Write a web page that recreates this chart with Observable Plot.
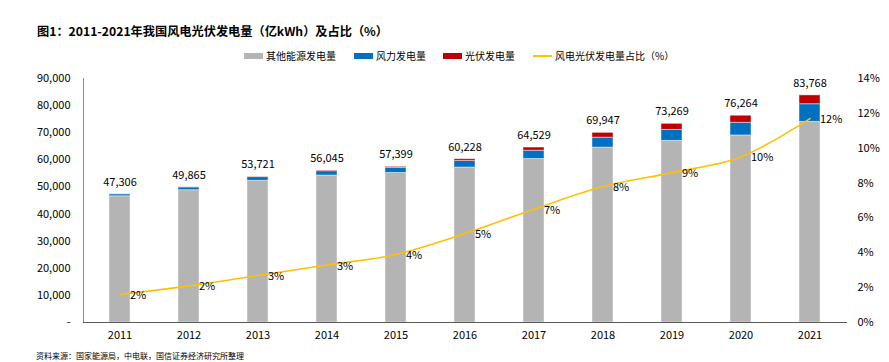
<!DOCTYPE html>
<html>
<head>
<meta charset="utf-8">
<script src="https://cdn.jsdelivr.net/npm/d3@7"></script>
<script src="https://cdn.jsdelivr.net/npm/@observablehq/plot@0.6"></script>
<style>
  body { margin: 0; background: #fff; }
  #wrap { position: relative; width: 889px; height: 362px; font-family: "Noto Sans CJK SC", "Noto Sans", sans-serif; color: #000; overflow: hidden; }
  #title { position: absolute; left: 37px; top: 22px; font-size: 12.2px; font-weight: bold; white-space: nowrap; }
  #source { position: absolute; left: 36px; top: 350px; font-size: 8px; white-space: nowrap; color: #000; }
  .lg { position: absolute; top: 49px; height: 14px; font-size: 10px; line-height: 14px; white-space: nowrap; }
  .sw { position: absolute; left: 0; }
  .lt { position: absolute; left: 22px; top: 0; }
  #chart { position: absolute; left: 0; top: 0; }
</style>
</head>
<body>
<div id="wrap">
  <div id="chart"></div>
  <div id="title"></div>
  <div id="legend"></div>
  <div id="source"></div>
</div>
<script>
const titleText = "图1：2011-2021年我国风电光伏发电量（亿kWh）及占比（%）";
const sourceText = "资料来源：国家能源局，中电联，国信证券经济研究所整理";

const years = ["2011","2012","2013","2014","2015","2016","2017","2018","2019","2020","2021"];
const totals = [47306, 49865, 53721, 56045, 57399, 60228, 64529, 69947, 73269, 76264, 83768];
const wind = [741, 1030, 1383, 1598, 1856, 2409, 3046, 3658, 4057, 4665, 6526];
const solar = [6, 36, 84, 235, 395, 665, 1166, 1775, 2240, 2611, 3259];
const share = [1.6, 2.1, 2.7, 3.3, 3.9, 5.1, 6.5, 7.8, 8.6, 9.5, 11.7];

const seriesNames = ["其他能源发电量", "风力发电量", "光伏发电量"];
const lineName = "风电光伏发电量占比（%）";
const seriesColors = ["#b4b4b4", "#0070c0", "#c00000"];
const lineColor = "#ffc000";

const leftTicks = [0, 10000, 20000, 30000, 40000, 50000, 60000, 70000, 80000, 90000];
const rightTicks = [0, 2, 4, 6, 8, 10, 12, 14];
const yMax = 90000;
const pMax = 14;

// build tables
const stackData = [];
years.forEach((yr, i) => {
  const other = totals[i] - wind[i] - solar[i];
  stackData.push({year: yr, series: seriesNames[0], value: other});
  stackData.push({year: yr, series: seriesNames[1], value: wind[i]});
  stackData.push({year: yr, series: seriesNames[2], value: solar[i]});
});
const totalData = years.map((yr, i) => ({year: yr, total: totals[i]}));
const shareData = years.map((yr, i) => ({year: yr, share: share[i], yv: share[i] / pMax * yMax}));

const fmt = d3.format(",");
const font = '"Noto Sans CJK SC", "Noto Sans", sans-serif';

const chart = Plot.plot({
  width: 889,
  height: 362,
  marginLeft: 83,
  marginRight: 42,
  marginTop: 78,
  marginBottom: 40,
  style: {fontFamily: font, fontSize: "11px", color: "#000", background: "transparent", overflow: "visible"},
  x: {domain: years, paddingInner: 0.69, paddingOuter: 0.345},
  y: {domain: [0, yMax]},
  color: {domain: seriesNames, range: seriesColors},
  marks: [
    Plot.barY(stackData, {x: "year", y: "value", fill: "series", order: seriesNames, stroke: "white", strokeOpacity: 0.45, strokeWidth: 1}),
    Plot.frame({anchor: "left", stroke: "#8c8c8c"}),
    Plot.ruleY([0], {stroke: "#595959", strokeWidth: 1.2}),
    Plot.axisX({tickSize: 0, tickPadding: 9, label: null, fontSize: 11}),
    Plot.axisY(leftTicks, {anchor: "left", tickSize: 0, tickPadding: 13, label: null, fontSize: 11,
      tickFormat: d => d === 0 ? "-" : fmt(d)}),
    Plot.axisY(rightTicks.map(p => p / pMax * yMax), {anchor: "right", tickSize: 0, tickPadding: 10, label: null, fontSize: 11,
      tickFormat: d => Math.round(d / yMax * pMax) + "%"}),
    Plot.line(shareData, {x: "year", y: "yv", stroke: lineColor, strokeWidth: 1.6, curve: "catmull-rom"}),
    Plot.text(totalData, {x: "year", y: "total", text: d => fmt(d.total), dy: -12, fontSize: 11, fill: "#000"}),
    Plot.text(shareData, {x: "year", y: "yv", text: d => Math.round(d.share) + "%", dx: 10, dy: 1, textAnchor: "start", fontSize: 11, fill: "#000"})
  ]
});
document.getElementById("chart").appendChild(chart);

document.getElementById("title").textContent = titleText;
document.getElementById("source").textContent = sourceText;

// legend
const legend = document.getElementById("legend");
const legendItems = [
  {name: seriesNames[0], color: seriesColors[0], type: "bar", left: 244},
  {name: seriesNames[1], color: seriesColors[1], type: "bar", left: 354},
  {name: seriesNames[2], color: seriesColors[2], type: "bar", left: 443},
  {name: lineName, color: lineColor, type: "line", left: 533}
];
legendItems.forEach(it => {
  const d = document.createElement("div");
  d.className = "lg";
  d.style.left = it.left + "px";
  const sw = document.createElement("div");
  sw.className = "sw";
  sw.style.width = "19px";
  sw.style.background = it.color;
  if (it.type === "bar") { sw.style.height = "6px"; sw.style.top = "4px"; }
  else { sw.style.height = "2px"; sw.style.top = "6px"; }
  const t = document.createElement("div");
  t.className = "lt";
  t.textContent = it.name;
  d.appendChild(sw);
  d.appendChild(t);
  legend.appendChild(d);
});
</script>
</body>
</html>
